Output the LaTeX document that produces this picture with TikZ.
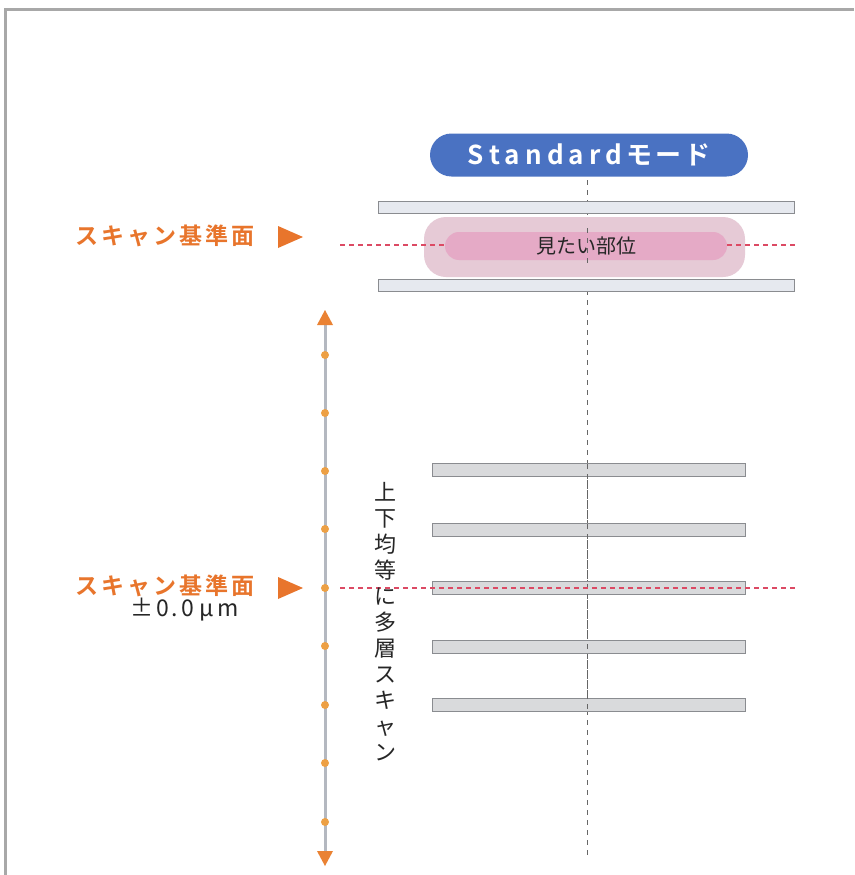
\documentclass[tikz,border=0pt]{standalone}
\usepackage{fontspec}
\newfontfamily\jp{Noto Sans CJK JP}
\newfontfamily\jpb{Noto Sans CJK JP Bold}
\usetikzlibrary{arrows.meta}
\definecolor{frameg}{HTML}{A8A8A8}
\definecolor{pillblue}{HTML}{4A72C2}
\definecolor{orng}{HTML}{E8752C}
\definecolor{dotor}{HTML}{EDA044}
\definecolor{reddash}{HTML}{DC4A64}
\definecolor{plateA}{HTML}{E6E9EF}
\definecolor{plateB}{HTML}{D9DADC}
\definecolor{plateline}{HTML}{8A8C90}
\definecolor{pinkout}{HTML}{E6CAD6}
\definecolor{pinkin}{HTML}{E5AAC6}
\definecolor{axisg}{HTML}{B4B8C0}
\newcommand{\sk}{\hspace{3pt}}
\tikzset{
  plate/.style={draw=plateline, line width=1pt, inner sep=0pt, minimum height=12pt},
  redline/.style={draw=reddash, line width=1.4pt, dash pattern=on 5pt off 4pt},
  centerline/.style={draw=gray!80!black, line width=0.9pt, dash pattern=on 5pt off 5pt},
  reflabel/.style={text=orng, font=\jpb\fontsize{23}{25}\selectfont, inner sep=0pt, anchor=west},
  tri/.style={fill=orng, draw=none},
  dot/.style={circle, fill=dotor, inner sep=0pt, minimum size=8pt},
}
\begin{document}
\begin{tikzpicture}[x=1pt,y=-1pt]
\useasboundingbox (0,0) rectangle (854,875);
\fill[white] (0,0) rectangle (854,875);
% frame
\draw[frameg, line width=3pt] (5,875) -- (5,10) -- (854,10);
% center vertical dashed line
\coordinate (ctop) at (587,180);
\coordinate (cbot) at (587,856);
\draw[centerline] (ctop) -- (cbot);
% Standard pill
\node[fill=pillblue, rounded corners=21.5pt, minimum width=318pt, minimum height=43pt, inner sep=0pt,
      text=white, font=\jpb\fontsize{26}{28}\selectfont] (std) at (589,155)
      {S\hspace{5pt}t\hspace{5pt}a\hspace{5pt}n\hspace{5pt}d\hspace{5pt}a\hspace{5pt}r\hspace{5pt}d\hspace{4pt}モ\hspace{3pt}ー\hspace{3pt}ド};
% outer pink region
\node[fill=pinkout, rounded corners=22pt, minimum width=321pt, minimum height=60pt, inner sep=0pt] (pout) at (584.5,247) {};
% top red dashed line
\coordinate (r1a) at (340,245);
\coordinate (r1b) at (796,245);
\draw[redline] (r1a) -- (r1b);
% inner pink pill
\node[fill=pinkin, rounded corners=14pt, minimum width=282pt, minimum height=28pt, inner sep=0pt,
      font=\jp\fontsize{20}{22}\selectfont, text=black!85] (pin) at (586,246) {見たい部位};
\draw[centerline] (587,228) -- (587,264);
% top and bottom plates
\node[plate, fill=plateA, minimum width=416pt] (pt1) at (586,207) {};
\node[plate, fill=plateA, minimum width=416pt] (pt2) at (586,285) {};
% reference label top
\node[reflabel] (lab1) at (75,236) {ス\sk キ\sk ャ\sk ン\sk 基\sk 準\sk 面};
\fill[tri] (278,226) -- (303,237) -- (278,248) -- cycle;
% vertical axis
\coordinate (atop) at (325,310);
\coordinate (abot) at (325,866);
\draw[axisg, line width=3pt] (325,322) -- (325,854);
\fill[orng!70!dotor] (325,310) -- (333,325) -- (317,325) -- cycle;
\fill[orng!70!dotor] (325,866) -- (333,851) -- (317,851) -- cycle;
\foreach \y [count=\i] in {355,413,471,529,588,646,705,763,822}
  \node[dot] (d\i) at (325,\y) {};
% scan plates
\foreach \y [count=\i] in {470,530,588,647,705}
  \node[plate, fill=plateB, minimum width=313pt, minimum height=13pt] (sp\i) at (589,\y) {};
\draw[centerline] (587,464) -- (587,712);
% bottom red dashed line
\coordinate (r2a) at (340,588);
\coordinate (r2b) at (796,588);
\draw[redline] (r2a) -- (r2b);
% reference label bottom
\node[reflabel] (lab2) at (75,586) {ス\sk キ\sk ャ\sk ン\sk 基\sk 準\sk 面};
\fill[tri] (278,577) -- (303,588) -- (278,599) -- cycle;
\node[font=\jp\fontsize{23}{25}\selectfont, text=black!85, inner sep=0pt, anchor=west] (pm) at (130,610)
  {±\hspace{3pt}0\hspace{3pt}.\hspace{3pt}0\hspace{5pt}μ\hspace{4pt}m};
% vertical text
\node[font=\jp\fontsize{22}{26}\selectfont, text=black!85, align=center, inner sep=0pt, anchor=north] (vt) at (385,482)
  {上\\下\\均\\等\\に\\多\\層\\ス\\キ\\ャ\\ン};
\end{tikzpicture}
\end{document}
